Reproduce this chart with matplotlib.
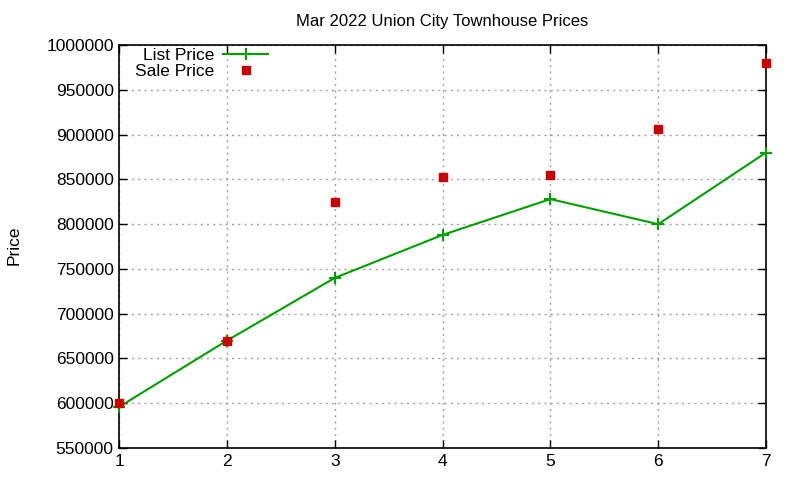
import matplotlib
matplotlib.use("Agg")
import matplotlib.pyplot as plt

# values
weeks = [1, 2, 3, 4, 5, 6, 7]
list_price = [596000, 670000, 740000, 788000, 828000, 800000, 880000]
sale_price = [600000, 670000, 825000, 853000, 855000, 906000, 980000]
y_ticks = list(range(550000, 1000001, 50000))

plt.rcParams['font.family'] = ['Liberation Sans', 'DejaVu Sans']

fig = plt.figure(figsize=(8, 4.8), dpi=100)
ax = fig.add_axes([0.149, 0.0667, 0.8085, 0.8393])

ax.plot(weeks, list_price, color='#00a000', lw=1.5, marker='+', ms=8, mew=1.5,
        label='List Price', clip_on=False, zorder=3)
ax.plot(weeks, sale_price, ls='none', color='#cc0000', marker='s', ms=6,
        label='Sale Price', clip_on=False, zorder=4)

ax.set_xlim(1, 7)
ax.set_ylim(550000, 1000000)
ax.set_xticks(weeks)
ax.set_yticks(y_ticks)
ax.set_yticklabels([str(v) for v in y_ticks])
ax.tick_params(direction='in', top=True, right=True, labelsize=12.5, length=6,
               width=1, pad=4)
ax.grid(True, color='#a0a0a0', ls=(0, (1.5, 3)), lw=1)
for s in ax.spines.values():
    s.set_linewidth(1.2)

ax.set_title('Mar 2022 Union City Townhouse Prices', fontsize=12, pad=14)
fig.text(0.008, 0.49, 'Price', rotation=90, fontsize=12.5, va='center')

leg = ax.legend(loc='upper right', bbox_to_anchor=(0.344, 0.915),
                bbox_transform=fig.transFigure, frameon=False,
                fontsize=12.5, markerfirst=False, handlelength=2.6,
                borderaxespad=0, labelspacing=0.05, handletextpad=0.5)
for t in leg.get_texts():
    t.set_ha('right')
leg._legend_box.align = 'right'

fig.savefig('out.png', dpi=100)
